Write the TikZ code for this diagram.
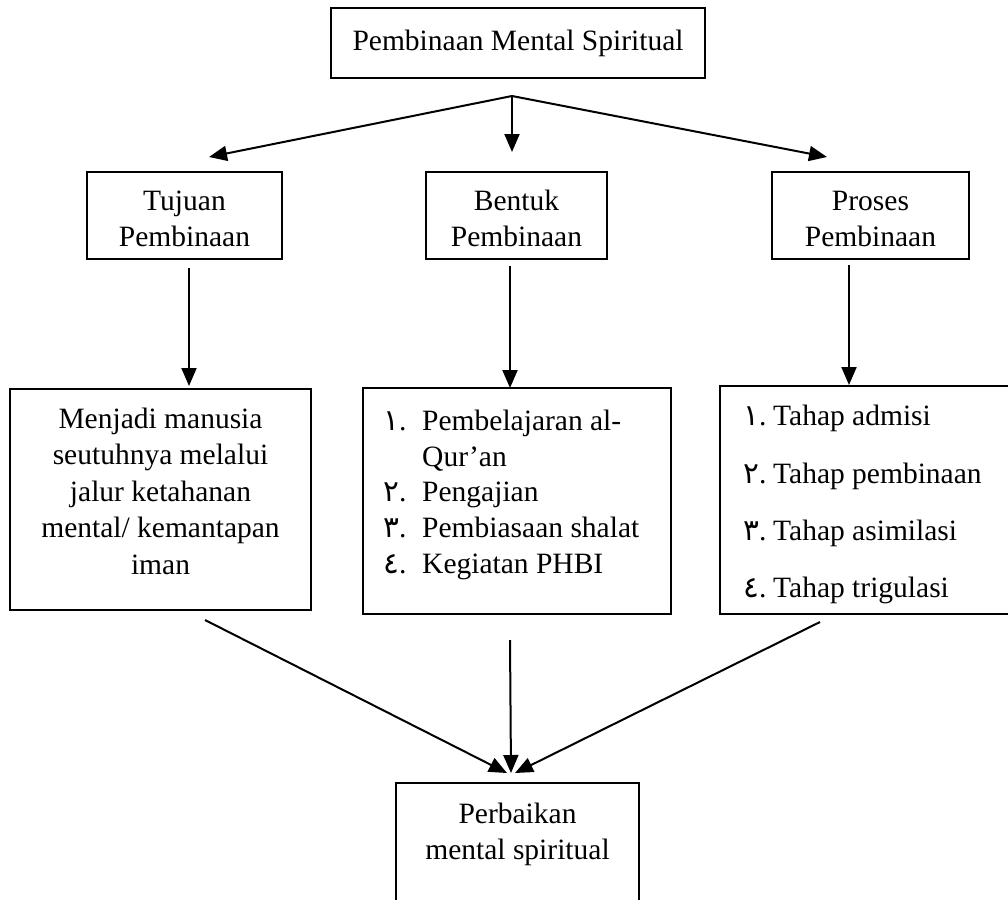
\documentclass[tikz,border=0pt]{standalone}
\usepackage{fontspec}
\setmainfont{Liberation Serif}
\newfontfamily\arabicfont[Script=Arabic]{DejaVu Sans}
\usetikzlibrary{arrows.meta}
\newcommand{\ad}[1]{{\arabicfont #1}}
\begin{document}
\begin{tikzpicture}[x=1pt,y=-1pt,
  box/.style={draw, line width=1.6pt, rectangle, inner sep=0pt},
  txt/.style={inner sep=0pt, font=\fontsize{29.5}{36.5}\selectfont},
  arr/.style={line width=2pt, -{Triangle[length=18pt,width=15pt]}},
  ln/.style={line width=2pt}]
\useasboundingbox (0,0) rectangle (1008,899);
\clip (0,0) rectangle (1008,899);

% boxes
\node[box, minimum width=374pt, minimum height=70pt] (top) at (518,43) {};
\node[box, minimum width=195pt, minimum height=87pt] (tuj) at (184.5,215.5) {};
\node[box, minimum width=181pt, minimum height=87pt] (ben) at (516.5,215.5) {};
\node[box, minimum width=197pt, minimum height=87pt] (pro) at (870.5,215.5) {};
\node[box, minimum width=301pt, minimum height=221pt] (menj) at (160.5,499.5) {};
\node[box, minimum width=308pt, minimum height=226pt] (blist) at (517,501) {};
\node[box, minimum width=320pt, minimum height=228pt] (plist) at (880,500) {};
\node[box, minimum width=243pt, minimum height=160pt] (perb) at (517.5,863) {};

% texts
\node[txt, anchor=base] (ttop) at (518,51) {Pembinaan Mental Spiritual};
\node[txt, anchor=base] (ttuj) at (184.5,210) {\begin{tabular}[t]{@{}c@{}}Tujuan\\ Pembinaan\end{tabular}};
\node[txt, anchor=base] (tben) at (516.5,210) {\begin{tabular}[t]{@{}c@{}}Bentuk\\ Pembinaan\end{tabular}};
\node[txt, anchor=base] (tpro) at (870.5,210) {\begin{tabular}[t]{@{}c@{}}Proses\\ Pembinaan\end{tabular}};
\node[txt, anchor=base] (tmenj) at (160.5,428) {\begin{tabular}[t]{@{}c@{}}Menjadi manusia\\ seutuhnya melalui\\ jalur ketahanan\\ mental/ kemantapan\\ iman\end{tabular}};

\node[txt, anchor=base west] (bn1) at (383,430) {\ad{١}.};
\node[txt, anchor=base west] (bt1) at (422,430) {Pembelajaran al-};
\node[txt, anchor=base west] (bt1b) at (422,466) {Qur’an};
\node[txt, anchor=base west] (bn2) at (383,501) {\ad{٢}.};
\node[txt, anchor=base west] (bt2) at (422,501) {Pengajian};
\node[txt, anchor=base west] (bn3) at (383,537) {\ad{٣}.};
\node[txt, anchor=base west] (bt3) at (422,537) {Pembiasaan shalat};
\node[txt, anchor=base west] (bn4) at (383,573) {\ad{٤}.};
\node[txt, anchor=base west] (bt4) at (422,573) {Kegiatan PHBI};

\node[txt, anchor=base west] (pn1) at (743,425) {\ad{١}.};
\node[txt, anchor=base west] (pt1) at (773,425) {Tahap admisi};
\node[txt, anchor=base west] (pn2) at (743,483) {\ad{٢}.};
\node[txt, anchor=base west] (pt2) at (773,483) {Tahap pembinaan};
\node[txt, anchor=base west] (pn3) at (743,540) {\ad{٣}.};
\node[txt, anchor=base west] (pt3) at (773,540) {Tahap asimilasi};
\node[txt, anchor=base west] (pn4) at (743,597) {\ad{٤}.};
\node[txt, anchor=base west] (pt4) at (773,597) {Tahap trigulasi};

\node[txt, anchor=base] (tperb) at (517.5,823) {\begin{tabular}[t]{@{}c@{}}Perbaikan\\ mental spiritual\end{tabular}};

% connector coordinates
\coordinate (fork) at (512,96);
\coordinate (tipL) at (209,157);
\coordinate (tipM) at (512,152);
\coordinate (tipR) at (827,157);
\coordinate (s1) at (189,268);
\coordinate (e1) at (189,386);
\coordinate (s2) at (510,266);
\coordinate (e2) at (510,388);
\coordinate (s3) at (849,265);
\coordinate (e3) at (849,385);
\coordinate (c1) at (205,620);
\coordinate (c2) at (510,640);
\coordinate (c3) at (820,622);
\coordinate (conv) at (511,773);

\draw[arr] (fork) -- (tipL);
\draw[arr] (fork) -- (tipM);
\draw[arr] (fork) -- (tipR);
\draw[arr] (s1) -- (e1);
\draw[arr] (s2) -- (e2);
\draw[arr] (s3) -- (e3);
\draw[arr] (c1) -- ([xshift=-4pt]conv);
\draw[arr] (c2) -- (conv);
\draw[arr] (c3) -- ([xshift=4pt]conv);
\end{tikzpicture}
\end{document}
